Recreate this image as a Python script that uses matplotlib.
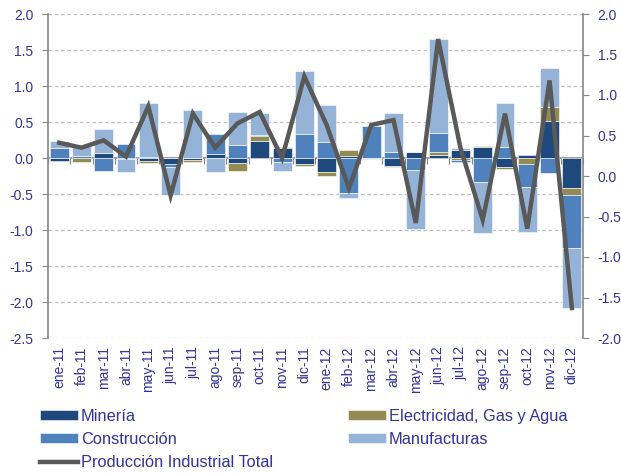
import numpy as np
import matplotlib
matplotlib.use('Agg')
import matplotlib.pyplot as plt

## data: contribuciones por sector (eje izq.) y total (eje der.)
meses = ['ene-11', 'feb-11', 'mar-11', 'abr-11', 'may-11', 'jun-11', 'jul-11', 'ago-11',
         'sep-11', 'oct-11', 'nov-11', 'dic-11', 'ene-12', 'feb-12', 'mar-12', 'abr-12',
         'may-12', 'jun-12', 'jul-12', 'ago-12', 'sep-12', 'oct-12', 'nov-12', 'dic-12']
mineria = [-0.04, 0.0, 0.07, -0.01, -0.045, -0.08, -0.03, 0.05, -0.075, 0.23, 0.14, -0.09,
           -0.20, 0.03, 0.0, -0.11, 0.08, 0.045, 0.11, 0.15, -0.13, 0.045, 0.52, -0.42]
electricidad = [0.0, -0.05, 0.0, 0.0, -0.03, 0.0, -0.03, 0.0, -0.10, 0.075, 0.01, -0.02,
                -0.05, 0.08, 0.0, -0.02, 0.01, 0.035, -0.03, 0.015, -0.025, -0.09, 0.195, -0.10]
construccion = [0.14, 0.03, -0.18, 0.19, 0.02, -0.05, 0.0, 0.28, 0.185, 0.01, -0.05, 0.33,
                0.22, -0.49, 0.45, 0.09, -0.16, 0.265, -0.02, -0.34, 0.15, -0.31, -0.21, -0.73]
manufacturas = [0.10, 0.14, 0.33, -0.18, 0.75, -0.38, 0.67, -0.19, 0.45, 0.31, -0.13, 0.88,
                0.52, -0.06, -0.02, 0.54, -0.83, 1.31, 0.03, -0.70, 0.61, -0.63, 0.53, -0.84]
total = [0.41, 0.35, 0.44, 0.24, 0.86, -0.24, 0.77, 0.35, 0.65, 0.79, 0.22, 1.23,
         0.63, -0.15, 0.63, 0.69, -0.58, 1.69, 0.35, -0.54, 0.77, -0.65, 1.18, -1.63]

series = [('Minería', mineria, '#1F497D'),
          ('Electricidad, Gas y Agua', electricidad, '#948A54'),
          ('Construcción', construccion, '#4F81BD'),
          ('Manufacturas', manufacturas, '#95B3D7')]

text_color = '#333399'
axis_color = '#868686'
plt.rcParams['font.family'] = ['Liberation Sans', 'DejaVu Sans']

fig = plt.figure(figsize=(6.21, 4.74), dpi=100)
ax = fig.add_axes([48/621., 1-338/474., 535/621., 324/474.])

## stacked bars, positive and negative parts stacked separately
x = np.arange(len(meses))
pos_bottom = np.zeros(len(meses))
neg_bottom = np.zeros(len(meses))
bars = {}
for name, vals, col in series:
    vals = np.array(vals)
    bottom = np.where(vals >= 0, pos_bottom, neg_bottom)
    bars[name] = ax.bar(x, vals, 0.85, bottom=bottom, color=col, label=name,
                        edgecolor='white', linewidth=0.4, zorder=2)
    pos_bottom += np.where(vals >= 0, vals, 0)
    neg_bottom += np.where(vals < 0, vals, 0)

ax.set_xlim(-0.5, len(meses) - 0.5)
ax.set_ylim(-2.5, 2.0)
ax.set_yticks(np.arange(-2.5, 2.01, 0.5))
ax.set_yticklabels(['%.1f' % v for v in np.arange(-2.5, 2.01, 0.5)])
ax.set_xticks(x)
ax.set_xticklabels(meses, rotation=90)
ax.tick_params(axis='x', length=0, pad=6, labelsize=10, labelcolor=text_color)
ax.tick_params(axis='y', direction='out', length=4, color=axis_color,
               labelsize=10, labelcolor=text_color, pad=6.5)
ax.yaxis.grid(True, linestyle=(0, (3, 2)), color='#C0C0C0', linewidth=0.9)
ax.set_axisbelow(True)
for s in ['top', 'bottom', 'right']:
    ax.spines[s].set_visible(False)
ax.spines['left'].set_color(axis_color)
ax.spines['left'].set_linewidth(1.2)

## category axis crossing at zero
zero_ax = ax.secondary_xaxis(2.5/4.5)
zero_ax.set_xticks(np.arange(-0.5, len(meses), 1.0))
zero_ax.tick_params(direction='in', length=4, color=axis_color,
                    labeltop=False, labelbottom=False)
for s in zero_ax.spines.values():
    s.set_color(axis_color)
    s.set_linewidth(1.2)

## total line on the right axis
ax2 = ax.twinx()
line, = ax2.plot(x, total, color='#595959', linewidth=3.2,
                 label='Producción Industrial Total', solid_joinstyle='miter')
ax2.set_ylim(-2.0, 2.0)
ax2.set_yticks(np.arange(-2.0, 2.01, 0.5))
ax2.set_yticklabels(['%.1f' % v for v in np.arange(-2.0, 2.01, 0.5)])
ax2.tick_params(axis='y', direction='out', length=4, color=axis_color,
                labelsize=10, labelcolor=text_color, pad=6.5)
for s in ['top', 'bottom', 'left']:
    ax2.spines[s].set_visible(False)
ax2.spines['right'].set_color(axis_color)
ax2.spines['right'].set_linewidth(1.2)

## legend below the plot
handles = [bars['Minería'], bars['Construcción'], line,
           bars['Electricidad, Gas y Agua'], bars['Manufacturas']]
labels = ['Minería', 'Construcción', 'Producción Industrial Total',
          'Electricidad, Gas y Agua', 'Manufacturas']
leg = fig.legend(handles, labels, ncol=2, loc='upper left',
                 bbox_to_anchor=(40/621., 1-409/474.), frameon=False,
                 fontsize=11.8, handlelength=2.3, handleheight=0.57,
                 handletextpad=0.18, columnspacing=4.6, labelspacing=0.5,
                 borderpad=0, borderaxespad=0)
for t in leg.get_texts():
    t.set_color(text_color)

plt.savefig('out.png', dpi=100)
